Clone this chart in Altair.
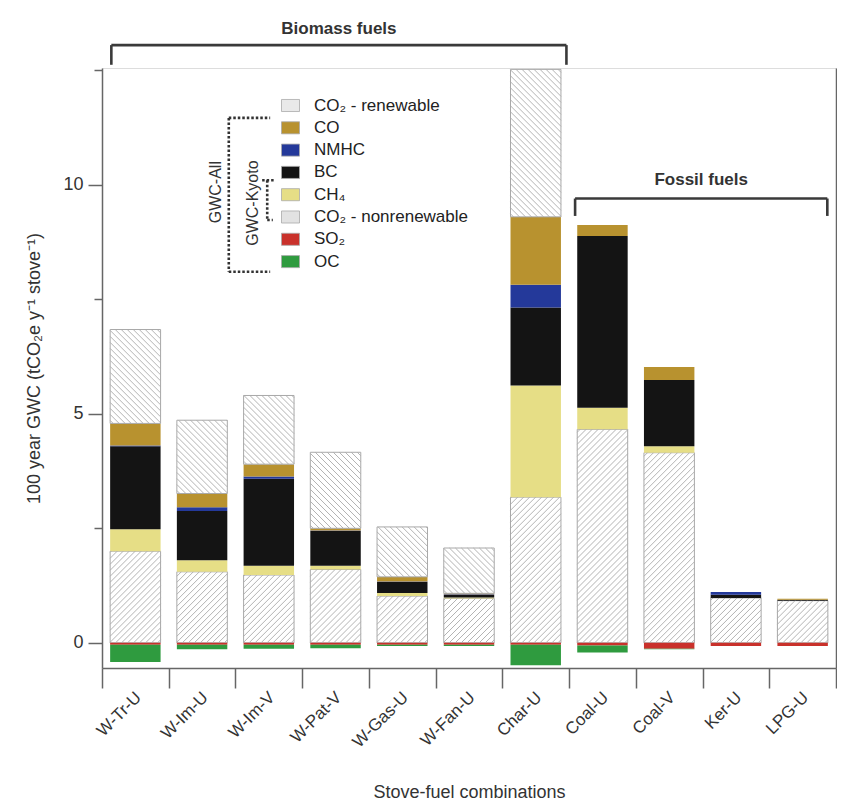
import math
import altair as alt
import pandas as pd

# ---------------- data ----------------
categories = ["W-Tr-U", "W-Im-U", "W-Im-V", "W-Pat-V", "W-Gas-U", "W-Fan-U",
              "Char-U", "Coal-U", "Coal-V", "Ker-U", "LPG-U"]

co2_nonrenewable = [2.00, 1.55, 1.48, 1.60, 1.02, 0.97, 3.18, 4.66, 4.15, 0.98, 0.92]
ch4 = [0.48, 0.25, 0.20, 0.08, 0.07, 0.02, 2.44, 0.47, 0.14, 0.00, 0.00]
bc = [1.81, 1.08, 1.90, 0.76, 0.24, 0.06, 1.70, 3.75, 1.45, 0.07, 0.02]
nmhc = [0.02, 0.08, 0.05, 0.01, 0.01, 0.01, 0.50, 0.00, 0.00, 0.06, 0.00]
co = [0.48, 0.30, 0.27, 0.05, 0.10, 0.02, 1.48, 0.24, 0.28, 0.00, 0.02]
co2_renewable = [2.05, 1.60, 1.50, 1.66, 1.09, 0.99, 3.22, 0.00, 0.00, 0.00, 0.00]
so2 = [-0.04, -0.04, -0.04, -0.04, -0.04, -0.04, -0.04, -0.06, -0.13, -0.07, -0.07]
oc = [-0.38, -0.10, -0.09, -0.08, -0.03, -0.03, -0.45, -0.15, -0.01, 0.00, 0.00]

legend_order = ["CO₂ - renewable", "CO", "NMHC", "BC", "CH₄",
                "CO₂ - nonrenewable", "SO₂", "OC"]
legend_colors = ["#e9e9e9", "#b8922f", "#24399a", "#141414", "#e6de86",
                 "#e2e2e2", "#c9312b", "#2f9b3f"]

group_labels = ["Biomass fuels", "Fossil fuels"]

# ---------------- layout constants ----------------
W_PLOT, H_PLOT = 734, 600
n = len(categories)
X_DOM = [-0.5, n - 0.5]
Y_DOM = [-0.55, 12.55]
FONT = "Liberation Sans"
BAR_HALF = 0.378
HATCH_STEP = 6.0  # px between hatch lines, measured along the bar width

# ---------------- build stacked table ----------------
pos_stack = [("CO₂ - nonrenewable", co2_nonrenewable), ("CH₄", ch4), ("BC", bc),
             ("NMHC", nmhc), ("CO", co), ("CO₂ - renewable", co2_renewable)]
neg_stack = [("SO₂", so2), ("OC", oc)]

rows = []
for i, cat in enumerate(categories):
    base = 0.0
    for name, vals in pos_stack:
        v = vals[i]
        if v > 0:
            rows.append(dict(category=cat, idx=i, component=name, value=v,
                             y0=base, y1=base + v))
            base += v
    base = 0.0
    for name, vals in neg_stack:
        v = vals[i]
        if v < 0:
            rows.append(dict(category=cat, idx=i, component=name, value=v,
                             y0=base, y1=base + v))
            base += v
df = pd.DataFrame(rows)
cat_df = pd.DataFrame({"category": categories, "idx": list(range(n))})

# ---------------- hatch lines derived from the CO2 segments ----------------
sx = W_PLOT / (X_DOM[1] - X_DOM[0])
sy = H_PLOT / (Y_DOM[1] - Y_DOM[0])
hatch = []
for r in rows:
    if not r["component"].startswith("CO₂"):
        continue
    xa = r["idx"] - BAR_HALF
    lo, hi = min(r["y0"], r["y1"]), max(r["y0"], r["y1"])
    W = 2 * BAR_HALF * sx
    H = (hi - lo) * sy
    rising = r["component"] == "CO₂ - nonrenewable"
    c = (-W if rising else 0.0) + HATCH_STEP / 2
    c_end = H if rising else W + H
    while c < c_end:
        if rising:      # v = u + c
            us, ue = max(0.0, -c), min(W, H - c)
            if ue > us:
                hatch.append((xa + us / sx, lo + (us + c) / sy,
                              xa + ue / sx, lo + (ue + c) / sy))
        else:           # v = -u + c
            us, ue = max(0.0, c - H), min(W, c)
            if ue > us:
                hatch.append((xa + us / sx, lo + (c - us) / sy,
                              xa + ue / sx, lo + (c - ue) / sy))
        c += HATCH_STEP
hatch_df = pd.DataFrame(hatch, columns=["hx", "hy", "hx2", "hy2"])

# ---------------- scales / axes ----------------
xscale = alt.Scale(domain=X_DOM, nice=False, zero=False)
yscale = alt.Scale(domain=Y_DOM, nice=False, zero=False)

x_tick_values = [k / 2 - 0.5 for k in range(2 * n + 1)]

xaxis = alt.Axis(
    values=x_tick_values, labels=False,
    tickSize={"condition": {"test": "datum.value % 1 !== 0", "value": 20}, "value": 0},
    tickColor="#666", tickWidth=1.5, domainColor="#666", domainWidth=1.5,
    grid=False, title="Stove-fuel combinations", titleFontSize=18,
    titleFontWeight="normal", titleColor="#333", titlePadding=95,
)
yaxis = alt.Axis(
    values=[0, 2.5, 5, 7.5, 10, 12.5],
    labelExpr="datum.value % 5 === 0 ? datum.label : ''",
    labelFontSize=18, labelColor="#333", labelPadding=5,
    tickSize={"condition": {"test": "datum.value % 5 === 0", "value": 14}, "value": 8},
    tickColor="#666", tickWidth=1.5, domainColor="#666", domainWidth=1.5,
    grid=False, title="100 year GWC (tCO₂e y⁻¹ stove⁻¹)", titleFontSize=18,
    titleFontWeight="normal", titleColor="#333", titlePadding=19,
)

is_co2 = "indexof(datum.component, 'CO₂') === 0"
bars = alt.Chart(df).transform_calculate(
    xa=f"datum.idx - {BAR_HALF}", xb=f"datum.idx + {BAR_HALF}"
).mark_bar(strokeWidth=1).encode(
    x=alt.X("xa:Q", scale=xscale, axis=xaxis),
    x2="xb:Q",
    y=alt.Y("y0:Q", scale=yscale, axis=yaxis),
    y2="y1:Q",
    color=alt.condition(
        is_co2, alt.value("#ffffff"),
        alt.Color(
            "component:N",
            scale=alt.Scale(domain=legend_order, range=legend_colors),
            legend=alt.Legend(
                title=None, orient="none", legendX=179, legendY=28,
                labelFontSize=17, labelColor="#222", labelFont=FONT,
                symbolType="M-1,-0.67H1V0.67H-1Z", symbolSize=324,
                symbolStrokeColor="#aaaaaa", symbolStrokeWidth=0.8,
                rowPadding=4.3, labelOffset=14, padding=0,
            ),
        ),
    ),
    stroke=alt.condition(is_co2, alt.value("#a8a8a8"), alt.value("transparent")),
)

hatch_lines = alt.Chart(hatch_df).mark_rule(color="#aaaaaa", strokeWidth=0.9).encode(
    x=alt.X("hx:Q", scale=xscale), x2="hx2:Q",
    y=alt.Y("hy:Q", scale=yscale), y2="hy2:Q")

# category tick labels, rotated, under the axis
cat_labels = alt.Chart(cat_df).transform_calculate(
    lx="datum.idx + 0.05", ly="-1.14"
).mark_text(angle=315, align="right", baseline="middle", fontSize=17,
            color="#333", font=FONT).encode(
    x=alt.X("lx:Q", scale=xscale), y=alt.Y("ly:Q", scale=yscale),
    text="category:N")

# ---------------- group brackets (annotation geometry) ----------------
brk = pd.DataFrame({
    "label": group_labels,
    "xl": [-0.36, 6.59], "xr": [6.46, 10.37],
    "yl": [13.05, 9.70], "ye": [12.62, 9.32],
    "xt": [3.05, 8.48], "yt": [13.40, 10.10],
})
rule_style = dict(color="#3a3a3a", strokeWidth=2.6)
brk_h = alt.Chart(brk).mark_rule(**rule_style).encode(
    x=alt.X("xl:Q", scale=xscale), x2="xr:Q", y=alt.Y("yl:Q", scale=yscale))
brk_l = alt.Chart(brk).mark_rule(**rule_style).encode(
    x=alt.X("xl:Q", scale=xscale), y=alt.Y("yl:Q", scale=yscale), y2="ye:Q")
brk_r = alt.Chart(brk).mark_rule(**rule_style).encode(
    x=alt.X("xr:Q", scale=xscale), y=alt.Y("yl:Q", scale=yscale), y2="ye:Q")
brk_t = alt.Chart(brk).mark_text(fontSize=17, fontWeight="bold", color="#333",
                                 font=FONT).encode(
    x=alt.X("xt:Q", scale=xscale), y=alt.Y("yt:Q", scale=yscale), text="label:N")

# ---------------- GWC dotted brackets beside the legend ----------------
gwc_seg = pd.DataFrame({
    "x": [1.40, 1.40, 1.40, 1.90, 1.976, 1.976],
    "x2": [2.02, 1.40, 2.02, 2.09, 1.976, 2.06],
    "y": [11.46, 11.46, 8.10, 10.10, 10.10, 9.23],
    "y2": [11.46, 8.10, 8.10, 10.10, 9.23, 9.23],
})
gwc_lines = alt.Chart(gwc_seg).mark_rule(color="#333", strokeWidth=2.6,
                                         strokeDash=[2.5, 2]).encode(
    x=alt.X("x:Q", scale=xscale), x2="x2:Q",
    y=alt.Y("y:Q", scale=yscale), y2="y2:Q")
gwc_txt = pd.DataFrame({"label": ["GWC-All", "GWC-Kyoto"],
                        "x": [1.21, 1.77], "y": [9.84, 9.60]})
gwc_text = alt.Chart(gwc_txt).mark_text(angle=270, fontSize=16, color="#333",
                                        font=FONT).encode(
    x=alt.X("x:Q", scale=xscale), y=alt.Y("y:Q", scale=yscale), text="label:N")

main = alt.layer(bars, hatch_lines, cat_labels, brk_h, brk_l, brk_r, brk_t,
                 gwc_lines, gwc_text)

# right frame line
right = alt.Chart(df).mark_point(opacity=0).encode(
    y=alt.Y("y0:Q", scale=yscale,
            axis=alt.Axis(orient="right", labels=False, ticks=False, title=None,
                          domainColor="#666", domainWidth=1.5, grid=False)))

chart = alt.layer(main, right).resolve_scale(y="independent").properties(
    width=W_PLOT, height=H_PLOT,
    padding={"left": 17, "top": 12, "right": 0, "bottom": 0},
).configure_view(stroke=None).configure(font=FONT)

chart.save("out.html", embed_options={"renderer": "svg", "actions": False})
